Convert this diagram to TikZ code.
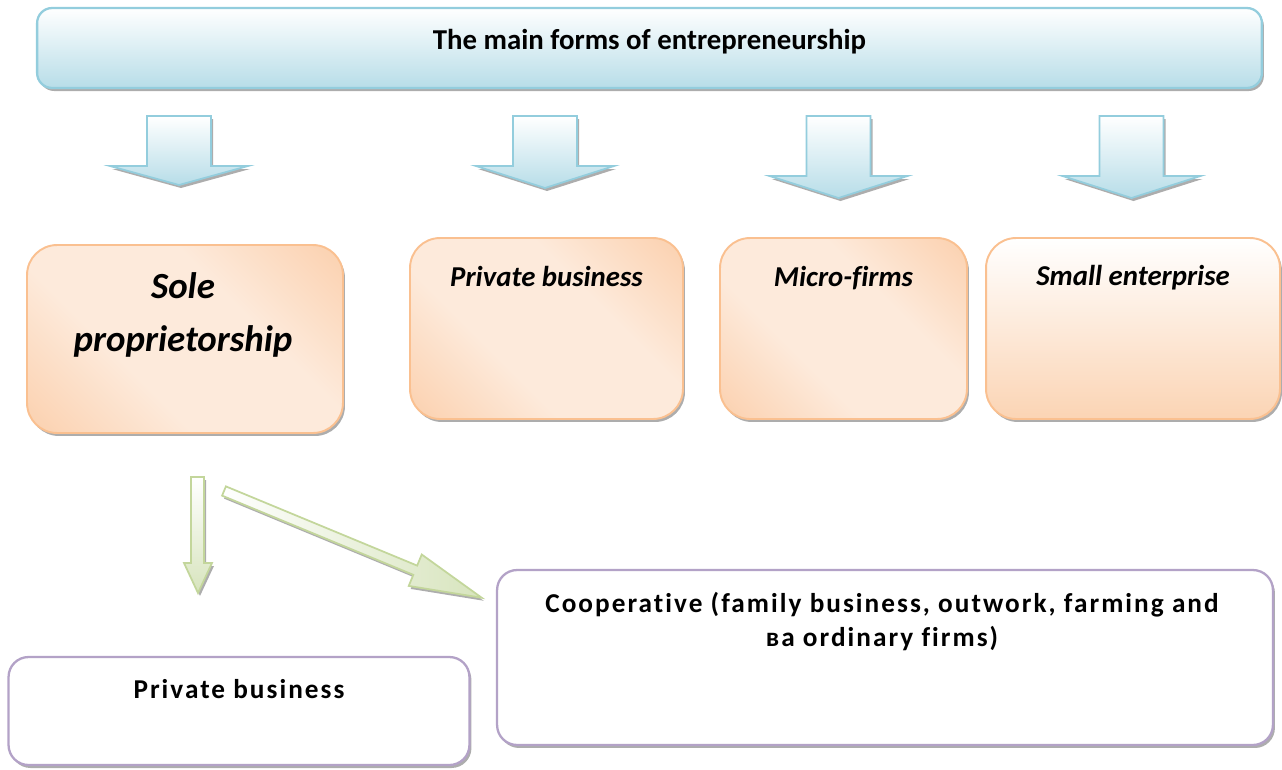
\documentclass[tikz,border=0pt]{standalone}
\usepackage{fontspec}
\setmainfont{Carlito}[Ligatures={NoCommon}]
\newfontfamily\widefont[LetterSpace=7.5, Ligatures={NoCommon}]{Carlito}
\usepackage{tikz}
\usetikzlibrary{positioning,shadows}
\usepackage{xcolor}
\definecolor{aqualine}{RGB}{147,205,221}
\definecolor{aquafill}{RGB}{183,221,232}
\definecolor{peachline}{RGB}{250,192,144}
\definecolor{peachdark}{RGB}{250,192,146}
\definecolor{peachlight}{RGB}{253,234,219}
\definecolor{peachsoft}{RGB}{251,212,180}
\definecolor{sageline}{RGB}{195,214,155}
\definecolor{sagefill}{RGB}{215,228,189}
\definecolor{lilacline}{RGB}{179,162,199}
\pgfdeclarehorizontalshading{peachband}{100bp}{color(0bp)=(peachdark); color(38bp)=(peachlight); color(62bp)=(peachlight); color(100bp)=(peachdark)}
\newcommand{\downblock}[4]{%
  \draw[bluearrow] (#1-32,#2) -- (#1+32,#2) -- (#1+32,#3) -- (#1+69,#3) -- (#1,#4) -- (#1-69,#3) -- (#1-32,#3) -- cycle;}

\begin{document}
\begin{tikzpicture}[x=0.02cm, y=-0.02cm,
    softshadow/.style={drop shadow={shadow xshift=0.04cm, shadow yshift=-0.06cm, fill=black!40, opacity=0.8}},
    headbox/.style={rectangle, rounded corners=0.3cm, draw=aqualine, line width=1.3pt, top color=white, bottom color=aquafill, softshadow},
    formbox/.style={rectangle, rounded corners=0.6cm, draw=peachline, line width=1.1pt, shading=peachband, shading angle=45, softshadow},
    kindbox/.style={rectangle, rounded corners=0.4cm, draw=lilacline, line width=1.3pt, fill=white, softshadow},
    bluearrow/.style={draw=aqualine, line width=1pt, top color=white, bottom color=aquafill, softshadow},
    greenarrow/.style={draw=sageline, line width=1pt, softshadow},
    titletext/.style={font=\bfseries\fontsize{16.4}{19.7}\selectfont, anchor=base},
    formtext/.style={font=\bfseries\itshape\fontsize{16.4}{19.7}\selectfont, anchor=base},
    soletext/.style={font=\bfseries\itshape\fontsize{21}{30}\selectfont, align=center, anchor=base},
    kindtext/.style={font=\widefont\bfseries\fontsize{15.5}{19.8}\selectfont, align=center, anchor=base}
]
\useasboundingbox (0,0) rectangle (1282,769);

% heading
\node[headbox, minimum width=24.5cm, minimum height=1.6cm] (head) at (649.5,48) {};
\node[titletext] (headtxt) at ([yshift=-0.86cm]head.north) {The main forms of entrepreneurship};

% block arrows under the heading
\downblock{179}{116}{166}{185}
\downblock{545}{116}{166}{188}
\downblock{838.5}{116}{176}{198}
\downblock{1131.5}{116}{176}{198}

% the four forms
\node[formbox, minimum width=6.32cm, minimum height=3.76cm] (sole) at (185,339) {};
\node[formbox, minimum width=5.46cm, minimum height=3.62cm] (private) at (546.5,328.5) {};
\node[formbox, minimum width=4.94cm, minimum height=3.62cm] (micro) at (843.5,328.5) {};
\node[formbox, shading angle=0, top color=white, bottom color=peachsoft, minimum width=5.88cm, minimum height=3.62cm] (small) at (1133,328.5) {};

\node[soletext] (soletxt) at ([xshift=-0.04cm, yshift=-2.14cm]sole.north) {Sole\\proprietorship};
\node[formtext] (privatetxt) at ([yshift=-0.98cm]private.north) {Private business};
\node[formtext] (microtxt) at ([yshift=-0.98cm]micro.north) {Micro-firms};
\node[formtext] (smalltxt) at ([yshift=-0.96cm]small.north) {Small enterprise};

% green arrows out of the sole proprietorship
\draw[greenarrow, top color=white, bottom color=sagefill] (191,477) -- (204,477) -- (204,563) -- (212,563) -- (198,593) -- (184,563) -- (191,563) -- cycle;
\begin{scope}[shift={(224,491)}, rotate=-22.5]
  \draw[greenarrow, left color=white, right color=sagefill] (0,-5) -- (207,-5) -- (207,-17) -- (279,0) -- (207,17) -- (207,5) -- (0,5) -- cycle;
\end{scope}

% lower kinds
\node[kindbox, minimum width=9.22cm, minimum height=2.16cm] (pb) at (239,711) {};
\node[kindbox, minimum width=15.52cm, minimum height=3.5cm] (coop) at (885,657.5) {};
\node[kindtext] (pbtxt) at ([yshift=-0.86cm]pb.north) {Private business};
\node[kindtext] (cooptxt) at ([xshift=-0.06cm, yshift=-1.56cm]coop.north) {Cooperative (family business, outwork, farming and\\ва ordinary firms)};
\end{tikzpicture}
\end{document}
